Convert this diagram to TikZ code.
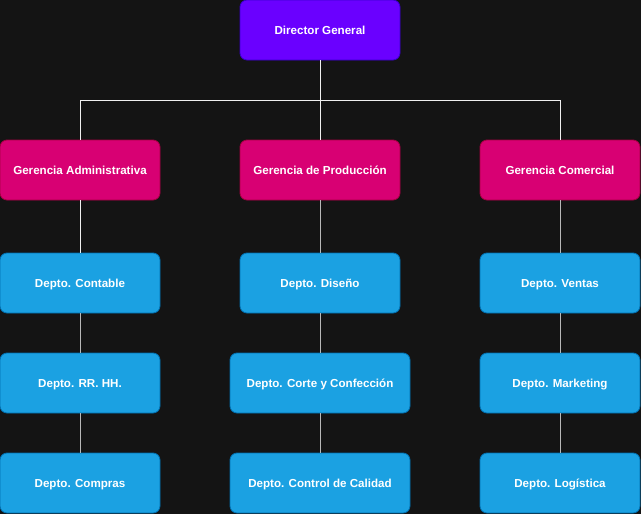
\documentclass[tikz,border=0pt]{standalone}
\usepackage{fontspec}
\setmainfont{Liberation Sans}
\definecolor{bg}{HTML}{141414}
\definecolor{dirfill}{HTML}{6A00FF}
\definecolor{dirline}{HTML}{3700CC}
\definecolor{gerfill}{HTML}{D80073}
\definecolor{gerline}{HTML}{A50040}
\definecolor{depfill}{HTML}{1BA1E2}
\definecolor{depline}{HTML}{006EAF}
\definecolor{conn}{HTML}{F0F0F0}
\definecolor{conn2}{HTML}{B8B8B8}
\begin{document}
\begin{tikzpicture}[x=1pt,y=-1pt,
  box/.style={rounded corners=7pt, line width=0.8pt, text=white, font=\bfseries\fontsize{11.6}{13}\selectfont, minimum height=60pt, inner sep=0pt, text height=8.3pt, text depth=0pt, align=center},
  dirbox/.style={box, fill=dirfill, draw=dirline, minimum width=160pt},
  gerbox/.style={box, fill=gerfill, draw=gerline, minimum width=160pt},
  depbox/.style={box, fill=depfill, draw=depline, minimum width=160pt},
  widebox/.style={depbox, minimum width=180pt},
  link/.style={draw=conn, line width=0.8pt},
  link2/.style={draw=conn2, line width=0.8pt}]
\fill[bg] (0,0) rectangle (641,514);
\useasboundingbox (0,0) rectangle (641,514);
\node[dirbox] (dir) at (320,30) {Director General};
\node[gerbox] (ga) at (80,170) {Gerencia Administrativa};
\node[gerbox] (gp) at (320,170) {Gerencia de Producción};
\node[gerbox] (gc) at (560,170) {Gerencia Comercial};
\node[depbox] (a1) at (80,283) {Depto. Contable};
\node[depbox] (a2) at (80,383) {Depto. RR. HH.};
\node[depbox] (a3) at (80,483) {Depto. Compras};
\node[depbox] (p1) at (320,283) {Depto. Diseño};
\node[widebox] (p2) at (320,383) {Depto. Corte y Confección};
\node[widebox] (p3) at (320,483) {Depto. Control de Calidad};
\node[depbox] (c1) at (560,283) {Depto. Ventas};
\node[depbox] (c2) at (560,383) {Depto. Marketing};
\node[depbox] (c3) at (560,483) {Depto. Logística};
\coordinate (j) at (320,100);
\path[link] (dir.south) -- (gp.north);
\path[link] (j) -| (ga.north);
\path[link] (j) -| (gc.north);
\path[link] (ga.south) -- (a1.north);
\path[link2] (a1.south) -- (a2.north);
\path[link2] (a2.south) -- (a3.north);
\path[link2] (gp.south) -- (p1.north);
\path[link2] (p1.south) -- (p2.north);
\path[link2] (p2.south) -- (p3.north);
\path[link2] (gc.south) -- (c1.north);
\path[link2] (c1.south) -- (c2.north);
\path[link2] (c2.south) -- (c3.north);
\end{tikzpicture}
\end{document}
